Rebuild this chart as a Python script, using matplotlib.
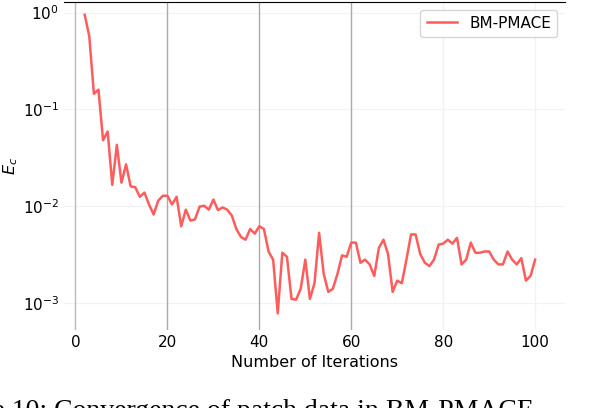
import numpy as np
import matplotlib.pyplot as plt

iterations = np.arange(2, 101)
errors = [0.95, 0.57, 0.145, 0.16, 0.048, 0.059, 0.0166, 0.043, 0.0175, 0.027,
          0.016, 0.0157, 0.0125, 0.0138, 0.0104, 0.0082, 0.0114, 0.0128, 0.0128, 0.0104,
          0.0125, 0.0062, 0.0092, 0.0071, 0.0073, 0.0099, 0.0101, 0.0092, 0.0117, 0.0091,
          0.0097, 0.0092, 0.0080, 0.0058, 0.0048, 0.0045, 0.0058, 0.0052, 0.0062, 0.0058,
          0.0034, 0.0028, 0.00078, 0.0033, 0.0030, 0.0011, 0.00108, 0.0014, 0.0028, 0.0011,
          0.0016, 0.0053, 0.0020, 0.0013, 0.0014, 0.0020, 0.0031, 0.0030, 0.0042, 0.0042,
          0.0026, 0.0028, 0.0025, 0.0019, 0.0037, 0.0045, 0.0032, 0.0013, 0.0017, 0.0016,
          0.0028, 0.0051, 0.0051, 0.0032, 0.0026, 0.0024, 0.0028, 0.0040, 0.0041, 0.0045,
          0.0041, 0.0047, 0.0025, 0.0028, 0.0042, 0.0033, 0.0033, 0.0034, 0.0034, 0.0028,
          0.0025, 0.0025, 0.0034, 0.0028, 0.0025, 0.0029, 0.0017, 0.0019, 0.0028]

fig = plt.figure(figsize=(5.92, 4.08), dpi=100)
ax = fig.add_axes([64/592, 1 - 330/408, 501/592, 328/408])

ax.semilogy(iterations, errors, color='#ff5c5c', lw=1.8, label='BM-PMACE', zorder=3)
ax.set_xlim(-2.5, 106.5)
ax.set_ylim(10**-3.28, 10**0.11)
ax.grid(True, axis='y', color='#f2f2f2', lw=0.8)
for xv, c in zip([0, 20, 40, 60, 80, 100],
                 ['#bbbbbb', '#aaaaaa', '#aaaaaa', '#aaaaaa', '#f2f2f2', '#f2f2f2']):
    ax.axvline(xv, color=c, lw=1, zorder=2)
ax.set_xticks([0, 20, 40, 60, 80, 100])
for s in ['right', 'bottom', 'left']:
    ax.spines[s].set_visible(False)
ax.spines['top'].set_color('black')
ax.tick_params(which='both', length=0, labelsize=11)
ax.set_xlabel('Number of Iterations', fontsize=11.5)
ax.set_ylabel('$E_c$', fontsize=11.5, labelpad=2)
ax.legend(loc='upper right', fontsize=11, frameon=True, fancybox=True)

fig.text(-0.115, -0.04, 'Figure 10: Convergence of patch data in BM-PMACE',
         family='Liberation Serif', fontsize=20, va='bottom')

fig.savefig('out.png', dpi=100)
